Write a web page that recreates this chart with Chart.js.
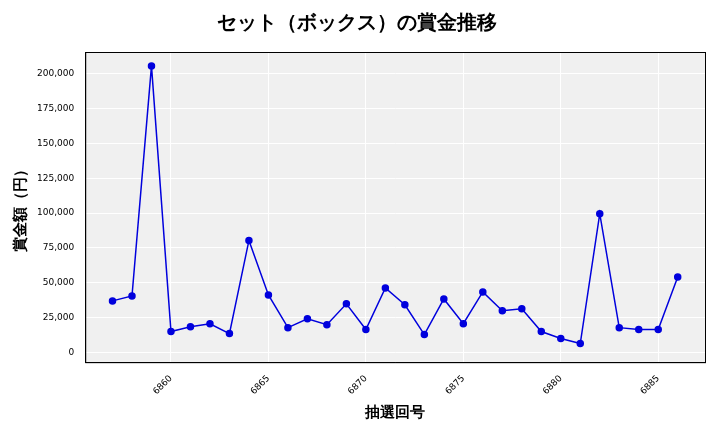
<!DOCTYPE html>
<html>
<head>
<meta charset="utf-8">
<script src="https://cdn.jsdelivr.net/npm/chart.js@4"></script>
<style>
  body { margin: 0; background: #fff; }
  #wrap { width: 720px; height: 432px; }
</style>
</head>
<body>
<div id="wrap"><canvas id="c"></canvas></div>
<script>
const draws = [6857, 6858, 6859, 6860, 6861, 6862, 6863, 6864, 6865, 6866,
  6867, 6868, 6869, 6870, 6871, 6872, 6873, 6874, 6875, 6876,
  6877, 6878, 6879, 6880, 6881, 6882, 6883, 6884, 6885, 6886];
const prizes = [37000, 40500, 205700, 15000, 18500, 20600, 13500, 80400, 41300, 17800,
  24200, 19900, 34900, 16400, 46300, 34200, 12800, 38400, 20600, 43400,
  29900, 31300, 15000, 10000, 6400, 99600, 17800, 16400, 16400, 54100];
const xTicks = [6860, 6865, 6870, 6875, 6880, 6885];

// plot area grey background + full frame
const bgPlugin = {
  id: 'bg',
  beforeDraw(chart) {
    const a = chart.chartArea, ctx = chart.ctx;
    ctx.save();
    ctx.fillStyle = '#f0f0f0';
    ctx.fillRect(a.left, a.top, a.right - a.left, a.bottom - a.top);
    ctx.restore();
  },
  afterDraw(chart) {
    const a = chart.chartArea, ctx = chart.ctx;
    ctx.save();
    ctx.strokeStyle = '#000';
    ctx.lineWidth = 1;
    ctx.strokeRect(a.left + 0.5, a.top + 0.5, a.right - a.left, a.bottom - a.top);
    ctx.restore();
  }
};

const font = 'DejaVu Sans, sans-serif';
new Chart(document.getElementById('c'), {
  type: 'line',
  data: {
    datasets: [{
      data: draws.map((d, i) => ({ x: d, y: prizes[i] })),
      borderColor: '#0000dd',
      backgroundColor: '#0000dd',
      borderWidth: 1.5,
      pointRadius: 3,
      tension: 0
    }]
  },
  plugins: [bgPlugin],
  options: {
    responsive: true,
    maintainAspectRatio: false,
    animation: false,
    layout: { padding: { top: 10, right: 15, left: 8, bottom: 6 } },
    plugins: {
      legend: { display: false },
      title: {
        display: true,
        text: 'セット（ボックス）の賞金推移',
        font: { family: font, size: 20, weight: 'bold' },
        color: '#000',
        padding: { top: 2, bottom: 16 }
      }
    },
    scales: {
      x: {
        type: 'linear',
        min: 6855.6, max: 6887.4,
        afterBuildTicks(s) { s.ticks = xTicks.map(v => ({ value: v })); },
        grid: { color: '#ffffff', lineWidth: 1 },
        border: { color: '#000' },
        ticks: { color: '#000', font: { family: font, size: 9 }, maxRotation: 45, minRotation: 45, callback: v => String(v) },
        title: { display: true, text: '抽選回号', font: { family: font, size: 15, weight: 'bold' }, color: '#000' }
      },
      y: {
        min: -7000, max: 215700,
        afterBuildTicks(s) { s.ticks = [0, 25000, 50000, 75000, 100000, 125000, 150000, 175000, 200000].map(v => ({ value: v })); },
        grid: { color: '#ffffff', lineWidth: 1 },
        border: { color: '#000' },
        ticks: { color: '#000', font: { family: font, size: 9 }, callback: v => v.toLocaleString('en-US') },
        title: { display: true, text: '賞金額（円）', font: { family: font, size: 15, weight: 'bold' }, color: '#000' }
      }
    }
  }
});
</script>
</body>
</html>
